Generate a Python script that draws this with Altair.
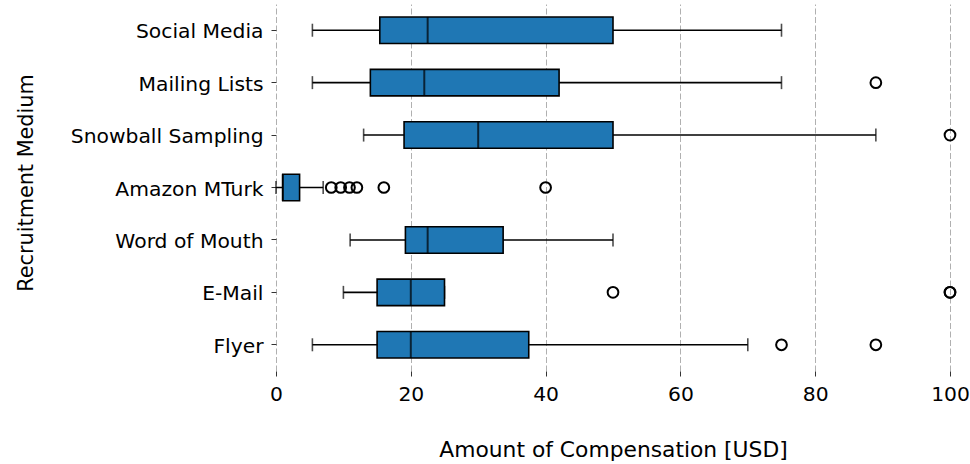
import altair as alt
import pandas as pd

# Box-plot summary per recruitment medium (USD)
categories = ["Social Media", "Mailing Lists", "Snowball Sampling", "Amazon MTurk",
              "Word of Mouth", "E-Mail", "Flyer"]
whisker_low = [5.4, 5.4, 13, 0, 11, 10, 5.4]
q1 = [15.4, 14, 19, 1, 19.2, 15, 15]
median = [22.5, 22, 30, 1, 22.5, 20, 20]
q3 = [50, 42, 50, 3.5, 33.7, 25, 37.5]
whisker_high = [75, 75, 89, 7, 50, 25, 70]

# Outlying observations per medium
outlier_media = ["Mailing Lists", "Snowball Sampling",
                 "Amazon MTurk", "Amazon MTurk", "Amazon MTurk", "Amazon MTurk",
                 "Amazon MTurk", "Amazon MTurk",
                 "E-Mail", "E-Mail", "E-Mail", "Flyer", "Flyer"]
outlier_values = [89, 100, 8.2, 9.6, 10.9, 12, 16, 40, 50, 100, 100, 75, 89]

x_ticks = [0, 20, 40, 60, 80, 100]

stats = pd.DataFrame({
    "medium": categories,
    "lo": whisker_low,
    "q1": q1,
    "med": median,
    "q3": q3,
    "hi": whisker_high,
})
fliers = pd.DataFrame({"medium": outlier_media, "amount": outlier_values})

x_scale = alt.Scale(domain=[0, 100], nice=False, zero=False)
y_scale = alt.Scale(domain=categories, paddingInner=0, paddingOuter=0)
x_title = "Amount of Compensation [USD]"
y_title = "Recruitment Medium"

y_enc = alt.Y("medium:N", scale=y_scale, sort=categories, title=y_title)

base = alt.Chart(stats)

whiskers = base.mark_rule(color="black", strokeWidth=1.6).encode(
    x=alt.X("lo:Q", scale=x_scale, title=x_title,
            axis=alt.Axis(values=x_ticks, format="d")),
    x2="hi:Q",
    y=y_enc,
)

caps_lo = base.mark_tick(color="black", size=13, thickness=1.6).encode(
    x=alt.X("lo:Q", scale=x_scale, title=x_title), y=y_enc)
caps_hi = base.mark_tick(color="black", size=13, thickness=1.6).encode(
    x=alt.X("hi:Q", scale=x_scale, title=x_title), y=y_enc)

boxes = base.mark_bar(size=26.5, fill="#1f77b4", stroke="black", strokeWidth=1.6).encode(
    x=alt.X("q1:Q", scale=x_scale, title=x_title),
    x2="q3:Q",
    y=y_enc,
)

medians = base.mark_tick(color="black", size=26.5, thickness=2).encode(
    x=alt.X("med:Q", scale=x_scale, title=x_title), y=y_enc)

points = alt.Chart(fliers).mark_point(
    shape="circle", filled=False, color="black", size=115, strokeWidth=2, opacity=1
).encode(
    x=alt.X("amount:Q", scale=x_scale, title=x_title),
    y=y_enc,
)

chart = alt.layer(whiskers, caps_lo, caps_hi, boxes, medians, points).properties(
    width=674,
    height=367,
    padding={"left": 276, "top": 4, "right": 20, "bottom": 93},
    autosize=alt.AutoSizeParams(type="none"),
).configure_view(
    stroke=None
).configure_axis(
    labelFont="DejaVu Sans",
    titleFont="DejaVu Sans",
    labelColor="black",
    titleColor="black",
    titleFontWeight="normal",
    domain=False,
    tickColor="#333333",
    tickWidth=1,
    tickSize=5,
    labelPadding=8,
    labelLimit=0,
).configure_axisX(
    grid=True,
    gridColor="#b0b0b0",
    gridDash=[6, 2.5],
    gridWidth=1,
    labelFontSize=20.3,
    titleFontSize=21.8,
    labelFlush=False,
    titleBaseline="alphabetic",
    titleY=85,
).configure_axisY(
    grid=False,
    labelFontSize=20.3,
    titleFontSize=20.8,
    labelOffset=2,
    titleX=-244,
    titleY=178.5,
    titleBaseline="alphabetic",
)

chart.save("out.html", embed_options={"renderer": "svg", "actions": False})
